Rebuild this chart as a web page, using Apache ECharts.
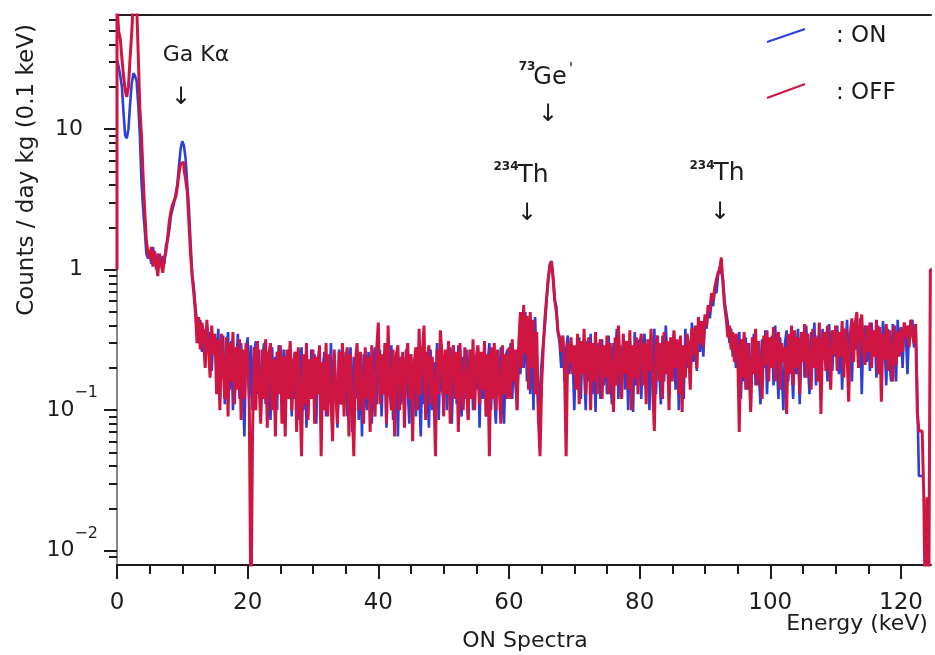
<!DOCTYPE html>
<html>
<head>
<meta charset="utf-8">
<script src="https://cdn.jsdelivr.net/npm/echarts@6/dist/echarts.min.js"></script>
<style>
html, body { margin: 0; padding: 0; background: #fff; }
#spec { width: 935px; height: 655px; }
</style>
</head>
<body>
<div id="spec"></div>
<script>
// 0.25 keV bins, each row covers 5 keV (20 bins), starting at 0 keV
var BIN = 0.25;

var onRows = [
    [31, 28, 24, 20, 13, 9, 8.6, 10, 15, 21, 25, 24, 22, 15, 9, 4.2, 2.7, 1.9, 1.3, 1.2],
    [1.35, 1.1, 1.45, 1.2, 1.0, 1.3, 1.15, 1.05, 1.25, 1.1, 1.5, 1.6, 1.9, 2.4, 2.7, 3.0, 3.5, 4.1, 5.6, 7.3],
    [8.2, 7.6, 6.2, 4.1, 2.8, 1.6, 0.95, 0.76, 0.55, 0.42, 0.3, 0.44, 0.26, 0.38, 0.22, 0.4, 0.28, 0.36, 0.19, 0.33],
    [0.32, 0.15, 0.38, 0.12, 0.29, 0.34, 0.11, 0.27, 0.36, 0.14, 0.31, 0.1, 0.28, 0.2, 0.35, 0.12, 0.3, 0.16, 0.065, 0.26],
    [0.33, 0.12, 0.29, 0.1, 0.25, 0.31, 0.13, 0.27, 0.09, 0.23, 0.3, 0.11, 0.26, 0.15, 0.085, 0.28, 0.12, 0.24, 0.1, 0.29],
    [0.22, 0.11, 0.27, 0.08, 0.25, 0.14, 0.29, 0.09, 0.23, 0.12, 0.26, 0.085, 0.21, 0.28, 0.1, 0.24, 0.075, 0.22, 0.13, 0.27],
    [0.12, 0.25, 0.08, 0.23, 0.28, 0.1, 0.2, 0.26, 0.09, 0.22, 0.13, 0.3, 0.095, 0.24, 0.14, 0.075, 0.27, 0.11, 0.23, 0.15],
    [0.26, 0.09, 0.21, 0.28, 0.07, 0.24, 0.12, 0.27, 0.085, 0.22, 0.065, 0.25, 0.13, 0.1, 0.26, 0.15, 0.08, 0.23, 0.28, 0.11],
    [0.22, 0.27, 0.09, 0.2, 0.25, 0.075, 0.23, 0.13, 0.29, 0.085, 0.21, 0.26, 0.065, 0.24, 0.11, 0.22, 0.1, 0.27, 0.14, 0.08],
    [0.25, 0.12, 0.23, 0.09, 0.28, 0.14, 0.065, 0.24, 0.11, 0.26, 0.15, 0.075, 0.27, 0.1, 0.22, 0.13, 0.3, 0.085, 0.24, 0.14],
    [0.12, 0.26, 0.1, 0.23, 0.28, 0.08, 0.21, 0.25, 0.11, 0.29, 0.14, 0.09, 0.24, 0.12, 0.27, 0.085, 0.22, 0.26, 0.1, 0.23],
    [0.14, 0.28, 0.075, 0.24, 0.12, 0.27, 0.09, 0.22, 0.3, 0.1, 0.25, 0.13, 0.08, 0.26, 0.15, 0.28, 0.11, 0.08, 0.24, 0.27],
    [0.19, 0.3, 0.12, 0.26, 0.15, 0.1, 0.28, 0.18, 0.45, 0.2, 0.5, 0.16, 0.42, 0.13, 0.38, 0.1, 0.46, 0.2, 0.1, 0.14],
    [0.22, 0.3, 0.4, 0.6, 0.85, 1.1, 1.15, 0.85, 0.6, 0.55, 0.36, 0.3, 0.2, 0.33, 0.16, 0.27, 0.34, 0.18, 0.29, 0.24],
    [0.1, 0.28, 0.15, 0.33, 0.12, 0.3, 0.2, 0.1, 0.31, 0.16, 0.35, 0.13, 0.27, 0.097, 0.3, 0.18, 0.12, 0.32, 0.15, 0.28],
    [0.13, 0.34, 0.18, 0.11, 0.3, 0.2, 0.38, 0.12, 0.29, 0.16, 0.33, 0.14, 0.27, 0.1, 0.31, 0.19, 0.097, 0.36, 0.15, 0.28],
    [0.32, 0.12, 0.27, 0.35, 0.14, 0.29, 0.1, 0.33, 0.18, 0.38, 0.13, 0.3, 0.2, 0.11, 0.34, 0.16, 0.4, 0.22, 0.13, 0.31],
    [0.19, 0.36, 0.14, 0.29, 0.1, 0.33, 0.17, 0.12, 0.38, 0.2, 0.31, 0.15, 0.42, 0.22, 0.36, 0.19, 0.45, 0.26, 0.4, 0.24],
    [0.45, 0.38, 0.55, 0.45, 0.6, 0.55, 0.72, 0.68, 0.9, 1.05, 0.95, 0.88, 0.6, 0.5, 0.42, 0.3, 0.38, 0.24, 0.33, 0.2],
    [0.3, 0.36, 0.12, 0.28, 0.16, 0.33, 0.14, 0.3, 0.1, 0.27, 0.35, 0.15, 0.29, 0.18, 0.11, 0.32, 0.2, 0.37, 0.13, 0.3],
    [0.2, 0.34, 0.15, 0.4, 0.22, 0.12, 0.33, 0.19, 0.1, 0.3, 0.37, 0.16, 0.32, 0.21, 0.12, 0.35, 0.18, 0.38, 0.11, 0.29],
    [0.33, 0.17, 0.4, 0.22, 0.13, 0.36, 0.24, 0.42, 0.15, 0.34, 0.2, 0.12, 0.38, 0.23, 0.35, 0.16, 0.41, 0.25, 0.19, 0.37],
    [0.24, 0.4, 0.18, 0.35, 0.14, 0.38, 0.26, 0.44, 0.2, 0.36, 0.16, 0.42, 0.27, 0.38, 0.2, 0.45, 0.13, 0.34, 0.4, 0.22],
    [0.37, 0.19, 0.42, 0.25, 0.36, 0.17, 0.4, 0.27, 0.21, 0.43, 0.3, 0.15, 0.38, 0.22, 0.16, 0.41, 0.27, 0.16, 0.44, 0.25],
    [0.39, 0.2, 0.42, 0.35, 0.18, 0.4, 0.36, 0.44, 0.28, 0.4, 0.13, 0.034, 0.034, null, null, null, null, null, null, null]
];

var offRows = [
    [80, 50, 44, 32, 24, 19, 17, 20, 32, 48, 80, 80, 80, 34, 14, 9, 4.6, 2.6, 1.6, 1.3],
    [1.2, 1.45, 1.05, 1.35, 1.15, 0.9, 1.3, 1.1, 0.95, 1.2, 1.35, 1.7, 2.2, 2.6, 2.9, 3.1, 3.3, 3.9, 4.9, 5.7],
    [5.8, 5.2, 4.4, 3.6, 2.2, 1.3, 0.9, 0.68, 0.5, 0.3, 0.46, 0.27, 0.42, 0.34, 0.2, 0.44, 0.28, 0.17, 0.4, 0.25],
    [0.35, 0.13, 0.32, 0.1, 0.35, 0.2, 0.12, 0.33, 0.09, 0.3, 0.16, 0.36, 0.11, 0.28, 0.14, 0.32, 0.085, 0.27, 0.12, 0.3],
    [0.25, 0.11, 0.003, 0.07, 0.28, 0.1, 0.31, 0.15, 0.08, 0.27, 0.12, 0.32, 0.075, 0.25, 0.3, 0.1, 0.23, 0.065, 0.26, 0.13],
    [0.29, 0.08, 0.24, 0.065, 0.27, 0.12, 0.31, 0.1, 0.22, 0.26, 0.07, 0.28, 0.13, 0.047, 0.25, 0.11, 0.3, 0.085, 0.23, 0.12],
    [0.27, 0.08, 0.24, 0.13, 0.29, 0.047, 0.22, 0.1, 0.3, 0.09, 0.25, 0.12, 0.06, 0.27, 0.14, 0.08, 0.26, 0.11, 0.3, 0.09],
    [0.23, 0.28, 0.065, 0.25, 0.11, 0.047, 0.22, 0.3, 0.1, 0.26, 0.13, 0.08, 0.28, 0.12, 0.24, 0.07, 0.29, 0.14, 0.09, 0.27],
    [0.42, 0.11, 0.25, 0.13, 0.3, 0.08, 0.4, 0.14, 0.1, 0.27, 0.065, 0.24, 0.29, 0.1, 0.21, 0.26, 0.075, 0.23, 0.3, 0.12],
    [0.25, 0.06, 0.22, 0.28, 0.1, 0.38, 0.13, 0.26, 0.4, 0.085, 0.23, 0.29, 0.11, 0.24, 0.14, 0.047, 0.27, 0.13, 0.37, 0.25],
    [0.09, 0.27, 0.13, 0.31, 0.08, 0.24, 0.29, 0.12, 0.26, 0.07, 0.3, 0.14, 0.1, 0.28, 0.15, 0.085, 0.27, 0.12, 0.32, 0.1],
    [0.24, 0.29, 0.11, 0.26, 0.14, 0.31, 0.09, 0.25, 0.047, 0.28, 0.12, 0.3, 0.1, 0.27, 0.15, 0.08, 0.29, 0.13, 0.25, 0.12],
    [0.28, 0.12, 0.32, 0.16, 0.27, 0.1, 0.3, 0.5, 0.2, 0.56, 0.25, 0.47, 0.14, 0.5, 0.2, 0.44, 0.13, 0.36, 0.09, 0.047],
    [0.15, 0.28, 0.45, 0.62, 0.85, 1.05, 1.15, 0.9, 0.62, 0.5, 0.36, 0.33, 0.26, 0.34, 0.2, 0.047, 0.3, 0.22, 0.33, 0.18],
    [0.29, 0.14, 0.35, 0.11, 0.31, 0.18, 0.38, 0.13, 0.28, 0.33, 0.1, 0.3, 0.16, 0.36, 0.13, 0.27, 0.32, 0.12, 0.29, 0.17],
    [0.34, 0.13, 0.3, 0.19, 0.097, 0.33, 0.15, 0.4, 0.21, 0.12, 0.35, 0.18, 0.31, 0.14, 0.37, 0.1, 0.29, 0.17, 0.33, 0.13],
    [0.28, 0.35, 0.15, 0.3, 0.11, 0.32, 0.19, 0.38, 0.14, 0.071, 0.29, 0.34, 0.16, 0.3, 0.12, 0.36, 0.18, 0.31, 0.1, 0.33],
    [0.16, 0.37, 0.2, 0.32, 0.13, 0.34, 0.097, 0.29, 0.17, 0.35, 0.3, 0.14, 0.38, 0.25, 0.4, 0.2, 0.46, 0.3, 0.43, 0.28],
    [0.48, 0.4, 0.56, 0.5, 0.68, 0.6, 0.75, 0.85, 0.95, 1.0, 1.22, 0.8, 0.55, 0.45, 0.33, 0.4, 0.27, 0.36, 0.22, 0.35],
    [0.28, 0.07, 0.32, 0.17, 0.36, 0.14, 0.3, 0.2, 0.097, 0.33, 0.18, 0.38, 0.15, 0.31, 0.19, 0.12, 0.34, 0.21, 0.37, 0.16],
    [0.33, 0.2, 0.39, 0.16, 0.31, 0.36, 0.14, 0.3, 0.22, 0.28, 0.094, 0.35, 0.18, 0.4, 0.15, 0.37, 0.2, 0.33, 0.13, 0.36],
    [0.22, 0.41, 0.17, 0.35, 0.24, 0.14, 0.38, 0.2, 0.33, 0.16, 0.42, 0.094, 0.31, 0.36, 0.19, 0.4, 0.24, 0.14, 0.37, 0.25],
    [0.4, 0.19, 0.36, 0.24, 0.43, 0.17, 0.38, 0.26, 0.115, 0.35, 0.45, 0.22, 0.41, 0.5, 0.2, 0.38, 0.48, 0.26, 0.21, 0.4],
    [0.26, 0.42, 0.2, 0.37, 0.24, 0.44, 0.18, 0.39, 0.115, 0.35, 0.23, 0.41, 0.19, 0.37, 0.25, 0.16, 0.4, 0.21, 0.36, 0.24],
    [0.38, 0.26, 0.42, 0.33, 0.4, 0.28, 0.44, 0.35, 0.3, 0.41, 0.097, 0.071, 0.071, 0.071, 0.024, 0.003, 0.024, 0.003, 1.0, 1.0]
];
// the OFF histogram starts its left edge from this level
var OFF_EDGE = 1.0;

var xMajor = [0, 20, 40, 60, 80, 100, 120];
var xMinor = [5, 10, 15, 25, 30, 35, 45, 50, 55, 65, 70, 75, 85, 90, 95, 105, 110, 115];
var yMajor = [0.01, 0.1, 1, 10];
var yMinor = [0.009, 0.02, 0.03, 0.04, 0.05, 0.06, 0.07, 0.08, 0.09,
    0.2, 0.3, 0.4, 0.5, 0.6, 0.7, 0.8, 0.9, 2, 3, 4, 5, 6, 7, 8, 9, 20, 30, 40, 50, 60];

var X_MIN = 0, X_MAX = 124.6, Y_MIN = 0.0079, Y_MAX = 65;
var FONT = 'DejaVu Sans';
var INK = '#1c1c1c';
var BLUE = '#2b3fd9', RED = '#cf1541';

function toSeries(rows) {
    var vals = [].concat.apply([], rows);
    var out = [];
    for (var i = 0; i < vals.length; i++) {
        out.push([i * BIN, vals[i]]);
    }
    return out;
}

function yLabel(v) {
    if (Math.abs(v - 10) < 1e-6) return '{p|10}';
    if (Math.abs(v - 1) < 1e-6) return '{p|1}';
    if (Math.abs(v - 0.1) < 1e-6) return '{b|10}{s|\u22121}';
    return '{b|10}{s|\u22122}';
}

function txt(x, y, text, size, extra) {
    var st = { text: text, font: size + 'px "' + FONT + '"', fill: INK, align: 'center', verticalAlign: 'middle' };
    if (extra) for (var k in extra) st[k] = extra[k];
    return { type: 'text', x: x, y: y, style: st, z: 10 };
}

var onData = toSeries(onRows);
var offData = [[0, OFF_EDGE]].concat(toSeries(offRows));

var chart = echarts.init(document.getElementById('spec'));
var tickStyle = { color: INK, width: 2 };

var option = {
    animation: false,
    backgroundColor: '#fff',
    grid: { left: 117, right: 4, top: 15, bottom: 90 },
    xAxis: [
        { type: 'value', min: X_MIN, max: X_MAX, position: 'bottom',
          axisLine: { lineStyle: { color: INK, width: 2 } },
          axisTick: { customValues: xMajor, length: 14, lineStyle: tickStyle },
          axisLabel: { customValues: xMajor, margin: 27, fontSize: 23, fontFamily: FONT, color: INK },
          splitLine: { show: false } },
        { type: 'value', min: X_MIN, max: X_MAX, position: 'bottom',
          axisLine: { show: false },
          axisTick: { customValues: xMinor, length: 9, lineStyle: tickStyle },
          axisLabel: { show: false }, splitLine: { show: false } },
        { type: 'value', min: X_MIN, max: X_MAX, position: 'top',
          axisLine: { lineStyle: { color: '#222', width: 2 } },
          axisTick: { show: false }, axisLabel: { show: false }, splitLine: { show: false } }
    ],
    yAxis: [
        { type: 'log', min: Y_MIN, max: Y_MAX, position: 'left',
          axisLine: { lineStyle: { color: INK, width: 2 } },
          axisTick: { customValues: yMajor, length: 13, lineStyle: tickStyle },
          axisLabel: { customValues: yMajor, margin: 19, formatter: yLabel, color: INK,
              rich: {
                  p: { fontSize: 22, fontFamily: FONT, color: INK, padding: [0, 15, 0, 0] },
                  b: { fontSize: 22, fontFamily: FONT, color: INK },
                  s: { fontSize: 16, fontFamily: FONT, color: INK, padding: [0, 0, 34, 0] }
              } },
          splitLine: { show: false } },
        { type: 'log', min: Y_MIN, max: Y_MAX, position: 'left',
          axisLine: { show: false },
          axisTick: { customValues: yMinor, length: 8, lineStyle: tickStyle },
          axisLabel: { show: false }, splitLine: { show: false } },
        { type: 'log', min: Y_MIN, max: Y_MAX, position: 'right',
          axisLine: { lineStyle: { color: '#aaa', width: 1.5 } },
          axisTick: { show: false }, axisLabel: { show: false }, splitLine: { show: false } }
    ],
    series: [
        { name: 'ON', type: 'line', step: 'end', data: onData, showSymbol: false,
          lineStyle: { color: BLUE, width: 2.6 }, z: 3 },
        { name: 'OFF', type: 'line', step: 'end', data: offData, showSymbol: false,
          lineStyle: { color: RED, width: 3 }, z: 4 }
    ],
    graphic: [
        txt(27, 170, 'Counts / day kg (0.1 keV)', 23),
        txt(525, 641, 'ON Spectra', 22),
        txt(857, 624, 'Energy (keV)', 22),
        txt(196, 55, 'Ga K\u03b1', 22),
        txt(181, 98, '\u2193', 24),
        txt(527, 67, '73', 12, { font: 'bold 12px "' + FONT + '"' }),
        txt(550, 78, 'Ge', 24),
        txt(571, 70, "'", 16),
        txt(548, 115, '\u2193', 24),
        txt(506, 167, '234', 12, { font: 'bold 12px "' + FONT + '"' }),
        txt(533, 175, 'Th', 25),
        txt(527, 214, '\u2193', 24),
        txt(702, 166, '234', 12, { font: 'bold 12px "' + FONT + '"' }),
        txt(729, 173, 'Th', 25),
        txt(720, 213, '\u2193', 24),
        { type: 'line', shape: { x1: 767, y1: 42, x2: 805, y2: 29 }, style: { stroke: BLUE, lineWidth: 2 }, z: 10 },
        txt(836, 36, ': ON', 23, { align: 'left' }),
        { type: 'line', shape: { x1: 767, y1: 98, x2: 805, y2: 84 }, style: { stroke: RED, lineWidth: 2 }, z: 10 },
        txt(836, 93, ': OFF', 23, { align: 'left' })
    ]
};
option.graphic[0].rotation = Math.PI / 2;
chart.setOption(option);
</script>
</body>
</html>
